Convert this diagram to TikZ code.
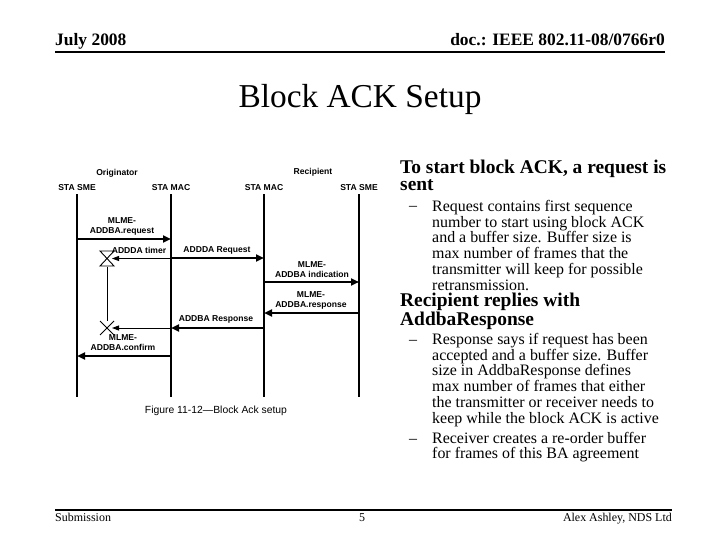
\documentclass[tikz,border=0pt]{standalone}
\usepackage{fontspec}
\setmainfont{Liberation Serif}
\newfontfamily\figfont{Liberation Sans}
\usetikzlibrary{arrows.meta,positioning}

\begin{document}
\begin{tikzpicture}[x=1bp, y=-1bp,
  hdr/.style={font=\fontsize{17.5}{20}\selectfont\bfseries, inner sep=0pt},
  ftr/.style={font=\fontsize{12}{14}\selectfont, inner sep=0pt},
  ttl/.style={font=\fontsize{33.5}{36}\selectfont, inner sep=0pt},
  head/.style={font=\fontsize{19.5}{17}\selectfont\bfseries, inner sep=0pt,
    align=left, anchor=base west},
  body/.style={font=\fontsize{16}{15.9}\selectfont, inner sep=0pt,
    align=left, anchor=base west},
  lane/.style={font=\figfont\bfseries\fontsize{8.6}{10}\selectfont, inner sep=0pt},
  lbl/.style={font=\figfont\bfseries\fontsize{8.6}{10}\selectfont, inner sep=0pt,
    align=center},
  life/.style={line width=2.2bp},
  msg/.style={line width=2.2bp, -{Triangle[length=8bp, width=7bp]}},
  tmr/.style={line width=0.9bp, -{Triangle[length=7bp, width=5bp]}},
  rule/.style={line width=1.8bp},
]
  \useasboundingbox (0,0) rectangle (720,540);

  % Header and footer
  \node[hdr, anchor=base west] (date) at (55,45.5) {July 2008};
  \node[hdr, anchor=base east] (doc) at (665,45.5) {doc.: IEEE 802.11-08/0766r0};
  \draw[rule] (date.west |- 0,52) coordinate (hl) -- (doc.east |- hl);
  \node[ftr, anchor=base west] (sub) at (55,521) {Submission};
  \node[ftr, anchor=base] (page) at (362,521) {5};
  \node[ftr, anchor=base east] (auth) at (672,521) {Alex Ashley, NDS Ltd};
  \draw[rule] (sub.west |- 0,510) coordinate (fl) -- (auth.east |- fl);

  % Title
  \node[ttl, anchor=base] (title) at (360,108) {Block ACK Setup};

  % Sequence diagram
  \node[lane] (orig) at (117,173) {Originator};
  \node[lane] (recp) at (313,172) {Recipient};
  \node[lane] (sme1) at (77,188) {STA SME};
  \node[lane] (mac1) at (171,188) {STA MAC};
  \node[lane] (mac2) at (264,188) {STA MAC};
  \node[lane] (sme2) at (359,188) {STA SME};
  \coordinate (bot) at (0,397);
  \foreach \l in {sme1,mac1,mac2,sme2}
    \draw[life] ([yshift=-3bp]\l.south) -- (\l |- bot);

  % rows of the messages
  \coordinate (r1) at (0,239);
  \coordinate (r2) at (0,258);
  \coordinate (r3) at (0,282);
  \coordinate (r4) at (0,313);
  \coordinate (r5) at (0,328);
  \coordinate (r6) at (0,356);

  \draw[msg] (sme1 |- r1) -- (mac1 |- r1);
  \node[lbl] (m1) at (122,226) {MLME-\\ADDBA.request};
  \draw[msg] (mac1 |- r2) -- (mac2 |- r2);
  \node[lbl] (m2) at (217,250) {ADDDA Request};
  \draw[msg] (mac2 |- r3) -- (sme2 |- r3);
  \node[lbl] (m3) at (312,270) {MLME-\\ADDBA indication};
  \draw[msg] (sme2 |- r4) -- (mac2 |- r4);
  \node[lbl] (m4) at (311,300) {MLME-\\ADDBA.response};
  \draw[msg] (mac2 |- r5) -- (mac1 |- r5);
  \node[lbl] (m5) at (216,319) {ADDBA Response};
  \draw[msg] (mac1 |- r6) -- (sme1 |- r6);
  \node[lbl] (m6) at (123,343) {MLME-\\ADDBA.confirm};

  % ADDBA timer
  \coordinate (hg) at (107,258.5);
  \coordinate (xx) at (107,328);
  \draw[line width=0.9bp] (100,251) -- (114,251) -- (100,266) -- (114,266) -- cycle;
  \draw[line width=0.9bp] (100,321) -- (114,335) (114,321) -- (100,335);
  \draw[tmr] (mac1 |- hg) -- ([xshift=5bp]hg);
  \draw[tmr] (mac1 |- xx) -- ([xshift=5bp]xx);
  \draw[line width=0.9bp] ([yshift=-8bp]hg) -- ([yshift=7bp]xx);
  \node[lbl] (tlab) at (139,250) {ADDDA timer};

  \node[font=\figfont\fontsize{10.4}{12}\selectfont, inner sep=0pt] (cap)
    at (216,411) {Figure 11-12\textemdash Block Ack setup};

  % Bullets (multi-line nodes sit on the baseline of their last line)
  \node[head] (h1) at (400,190.5) {To start block ACK, a request is\\sent};
  \node[body] (d1) at (409,211) {--};
  \node[body] (t1) at (432,290.5) {Request contains first sequence\\
    number to start using block ACK\\and a buffer size. Buffer size is\\
    max number of frames that the\\transmitter will keep for possible\\
    retransmission.};
  \node[head] (h2) at (400,325) {Recipient replies with\\AddbaResponse};
  \node[body] (d2) at (409,344) {--};
  \node[body] (t2) at (432,423.5) {Response says if request has been\\
    accepted and a buffer size. Buffer\\size in AddbaResponse defines\\
    max number of frames that either\\the transmitter or receiver needs to\\
    keep while the block ACK is active};
  \node[body] (d3) at (409,443) {--};
  \node[body] (t3) at (432,458.9) {Receiver creates a re-order buffer\\
    for frames of this BA agreement};
\end{tikzpicture}
\end{document}
